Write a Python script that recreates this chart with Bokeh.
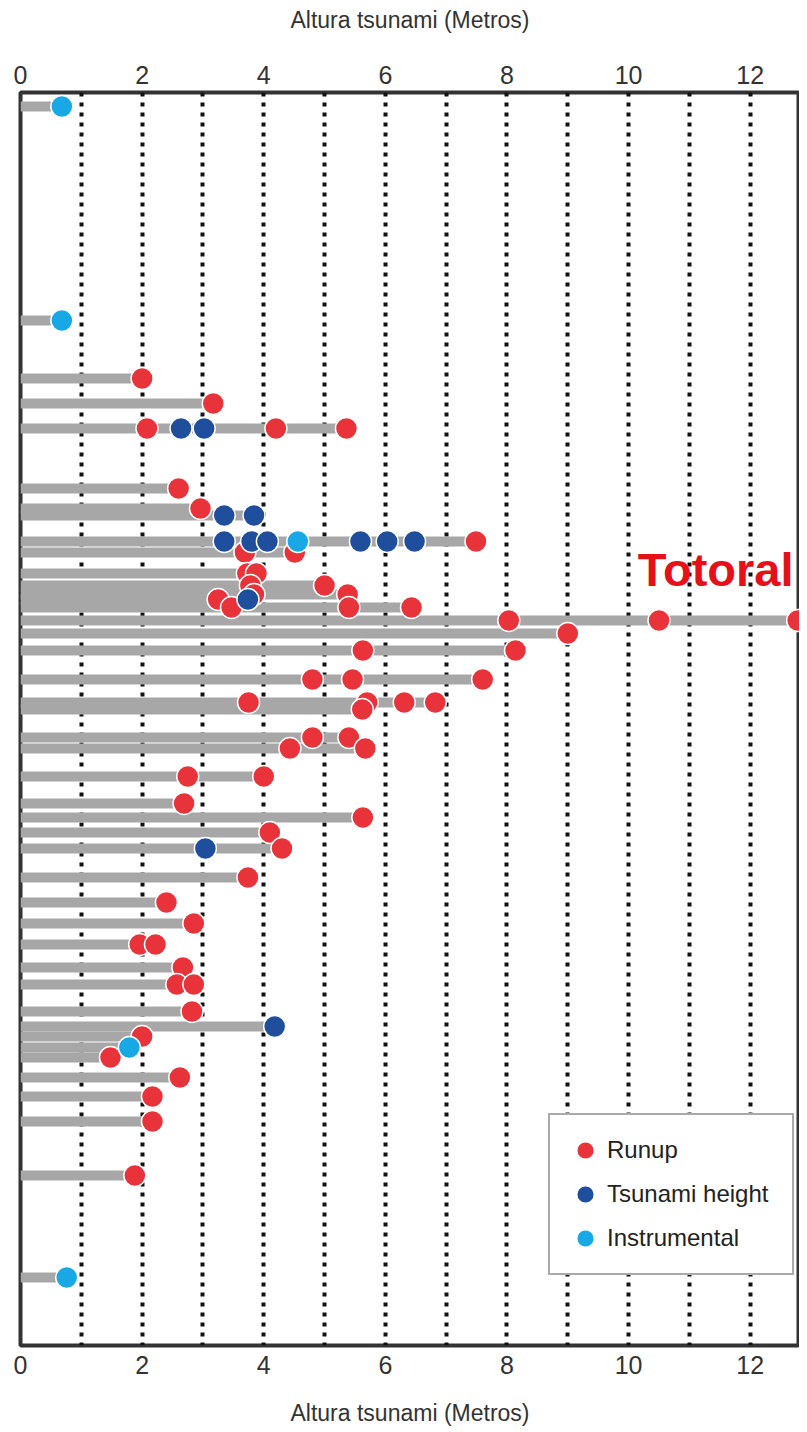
import pandas as pd
from bokeh.plotting import figure
from bokeh.models import (Range1d, FixedTicker, Legend, LegendItem, Label,
                          ColumnDataSource, LinearAxis)
from bokeh.embed import file_html
from bokeh.resources import INLINE

# ---- data (latitude-like position of each site, height in m) ----
runup_lat = [23.72, 24.22, 24.72, 24.72, 24.72, 25.92, 26.32, 26.98, 27.20, 27.20,
             27.62, 27.62, 27.86, 27.86, 28.04, 28.04, 28.14, 28.30, 28.30, 28.30,
             28.56, 28.56, 28.56, 28.82, 29.16, 29.16, 29.74, 29.74, 29.74,
             30.20, 30.20, 30.20, 30.20, 30.34, 30.90, 30.90, 31.12, 31.12,
             31.68, 31.68, 32.22, 32.50, 32.80, 33.12, 33.70, 34.20, 34.62,
             35.04, 35.04, 35.50, 35.84, 35.84, 36.38, 36.88, 37.30, 37.70,
             38.08, 38.58, 39.66]
runup_m = [2.00, 3.17, 2.08, 4.20, 5.36, 2.60, 2.96, 7.49, 3.69, 4.51,
           3.73, 3.88, 3.78, 5.00, 3.84, 5.38, 3.25, 3.47, 5.40, 6.43,
           8.03, 10.50, 12.78, 9.00, 5.63, 8.14, 4.80, 5.46, 7.60,
           3.75, 5.70, 6.31, 6.82, 5.62, 4.80, 5.40, 4.43, 5.67,
           2.75, 4.00, 2.69, 5.63, 4.10, 4.30, 3.74, 2.40, 2.85,
           1.96, 2.22, 2.67, 2.57, 2.85, 2.82, 2.00, 1.48, 2.62,
           2.17, 2.17, 1.88]

tsunami_lat = [24.72, 24.72, 26.46, 26.46, 26.98, 26.98, 26.98, 26.98, 26.98, 26.98,
               28.14, 33.12, 36.68]
tsunami_m = [2.64, 3.02, 3.35, 3.84, 3.35, 3.80, 4.06, 5.59, 6.03, 6.48,
             3.74, 3.04, 4.18]

instr_lat = [18.28, 22.56, 26.98, 37.10, 41.70]
instr_m = [0.68, 0.68, 4.56, 1.79, 0.76]

x_ticks = [0, 2, 4, 6, 8, 10, 12]
grid_ticks = [1, 2, 3, 4, 5, 6, 7, 8, 9, 10, 11, 12]
axis_title = "Altura tsunami (Metros)"
series_names = ["Runup", "Tsunami height", "Instrumental"]
highlight_name = "Totoral"

RED = "#E8333B"
DBLUE = "#1E4E9C"
CYAN = "#19A8E6"
GRAY = "#A7A7A7"
TXT = "#333333"
FONT = "Liberation Sans"

# ---- derived tables ----
df = pd.concat([
    pd.DataFrame({"lat": runup_lat, "m": runup_m}),
    pd.DataFrame({"lat": tsunami_lat, "m": tsunami_m}),
    pd.DataFrame({"lat": instr_lat, "m": instr_m}),
])
bars = df.groupby("lat", as_index=False)["m"].max()

src_bar = ColumnDataSource(bars)
src_run = ColumnDataSource(dict(lat=runup_lat, m=runup_m))
src_tsu = ColumnDataSource(dict(lat=tsunami_lat, m=tsunami_m))
src_ins = ColumnDataSource(dict(lat=instr_lat, m=instr_m))

p = figure(frame_width=779, frame_height=1253,
           x_range=Range1d(0, 12.81), y_range=Range1d(43.06, 18.0),
           output_backend="svg", toolbar_location=None,
           x_axis_location="below", y_axis_location=None,
           min_border_left=20, min_border_right=0,
           min_border_top=92, min_border_bottom=83)

p.background_fill_color = "white"
p.border_fill_color = "white"
p.outline_line_color = TXT
p.outline_line_width = 4

# grid: dotted vertical lines every metre
p.xgrid.ticker = FixedTicker(ticks=grid_ticks)
p.xgrid.grid_line_color = "#111111"
p.xgrid.grid_line_width = 4
p.xgrid.grid_line_dash = "4 6"
p.ygrid.visible = False

# axes (bottom + top)
top_axis = LinearAxis()
p.add_layout(top_axis, "above")
for ax in [p.below[0], top_axis]:
    ax.ticker = FixedTicker(ticks=x_ticks)
    ax.axis_label = axis_title
    ax.axis_label_text_font = FONT
    ax.axis_label_text_font_size = "23px"
    ax.axis_label_text_font_style = "normal"
    ax.axis_label_text_color = TXT
    ax.major_label_text_font = FONT
    ax.major_label_text_font_size = "25px"
    ax.major_label_text_color = TXT
    ax.axis_line_color = None
    ax.major_tick_line_color = None
    ax.minor_tick_line_color = None
    ax.major_tick_out = 0
    ax.major_tick_in = 0
p.below[0].major_label_standoff = 10
p.below[0].axis_label_standoff = 23
top_axis.major_label_standoff = 9
top_axis.axis_label_standoff = 30

# bars
p.hbar(y="lat", left=0, right="m", height=0.2, source=src_bar,
       fill_color=GRAY, line_color=None)

# points
r_run = p.scatter(x="m", y="lat", source=src_run, size=22, fill_color=RED,
                  line_color="white", line_width=1.5)
r_tsu = p.scatter(x="m", y="lat", source=src_tsu, size=22, fill_color=DBLUE,
                  line_color="white", line_width=1.5)
r_ins = p.scatter(x="m", y="lat", source=src_ins, size=22, fill_color=CYAN,
                  line_color="white", line_width=1.5)

# annotation for the maximum
p.add_layout(Label(x=10.15, y=27.54, text=highlight_name, text_font=FONT,
                   text_font_size="47px", text_font_style="bold",
                   text_color="#E5101A", text_baseline="alphabetic"))

legend = Legend(items=[LegendItem(label=series_names[0], renderers=[r_run]),
                       LegendItem(label=series_names[1], renderers=[r_tsu]),
                       LegendItem(label=series_names[2], renderers=[r_ins])],
                location=(528, 70), margin=0, padding=13, spacing=0,
                glyph_width=44, glyph_height=44, label_standoff=0,
                label_width=172, label_text_font=FONT,
                label_text_font_size="24px", label_text_color="#222222",
                border_line_color="#555555", border_line_width=2,
                background_fill_color="white", background_fill_alpha=1.0)
p.add_layout(legend)

open("out.html", "w").write(file_html(p, INLINE))
